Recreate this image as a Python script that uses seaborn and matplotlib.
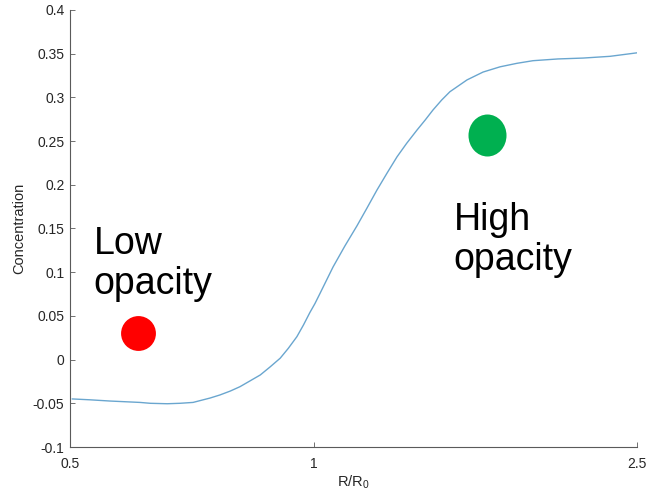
import numpy as np
import pandas as pd
import matplotlib
matplotlib.use("Agg")
import matplotlib.pyplot as plt
from matplotlib.path import Path
from matplotlib.ticker import FixedLocator, NullLocator, FixedFormatter
import seaborn as sns

# Concentration profile along the normalised radius
r_over_r0 = [0.503, 0.529, 0.560, 0.610, 0.628, 0.659, 0.683, 0.709, 0.744,
             0.765, 0.788, 0.810, 0.833, 0.858, 0.882, 0.908, 0.929, 0.952,
             0.970, 0.988, 1.002, 1.017, 1.055, 1.091, 1.129, 1.161, 1.195,
             1.229, 1.265, 1.300, 1.339, 1.370, 1.401, 1.436, 1.470, 1.543,
             1.615, 1.695, 1.778, 1.861, 1.998, 2.145, 2.316, 2.500]
concentration = [-0.045, -0.046, -0.0474, -0.049, -0.050, -0.0505, -0.050,
                 -0.049, -0.044, -0.0405, -0.036, -0.031, -0.0245, -0.0176,
                 -0.0085, 0.0016, 0.0128, 0.0262, 0.0396, 0.054, 0.064,
                 0.076, 0.106, 0.130, 0.153, 0.173, 0.194, 0.213, 0.232,
                 0.2474, 0.2627, 0.274, 0.2856, 0.297, 0.3065, 0.320, 0.329,
                 0.335, 0.339, 0.342, 0.344, 0.345, 0.347, 0.351]

# Opacity markers and their captions
marker_x = [0.606, 1.633]
marker_y = [0.030, 0.257]
marker_colors = ["#ff0000", "#00b050"]
caption_x = [0.535, 1.485]
caption_y = [0.153, 0.180]
captions = ["Low\nopacity", "High\nopacity"]

x_ticks = [0.5, 1, 2.5]
x_tick_labels = ["0.5", "1", "2.5"]
y_ticks = [-0.1, -0.05, 0, 0.05, 0.1, 0.15, 0.2, 0.25, 0.3, 0.35, 0.4]
y_tick_labels = ["-0.1", "-0.05", "0", "0.05", "0.1", "0.15", "0.2", "0.25",
                 "0.3", "0.35", "0.4"]

sns.set_style("ticks")
plt.rcParams["font.family"] = ["Liberation Sans", "DejaVu Sans"]
plt.rcParams["mathtext.fontset"] = "custom"
plt.rcParams["mathtext.rm"] = "Liberation Sans"
plt.rcParams["mathtext.it"] = "Liberation Sans"

fig = plt.figure(figsize=(6.48, 4.9), dpi=100)
ax = fig.add_axes([70 / 648, 43 / 490, 567 / 648, 437 / 490])

df = pd.DataFrame({"r": r_over_r0, "c": concentration})
sns.lineplot(data=df, x="r", y="c", ax=ax, color="#6aa6cf", linewidth=1.0)

ax.set_xscale("log")
ax.set_xlim(0.5, 2.5)
ax.set_ylim(-0.1, 0.4)
ax.xaxis.set_major_locator(FixedLocator(x_ticks))
ax.xaxis.set_major_formatter(FixedFormatter(x_tick_labels))
ax.xaxis.set_minor_locator(NullLocator())
ax.set_yticks(y_ticks)
ax.set_yticklabels(y_tick_labels)

spine_color = "#5a5a5a"
for side in ("top", "right"):
    ax.spines[side].set_visible(False)
for side in ("left", "bottom"):
    ax.spines[side].set_color(spine_color)
    ax.spines[side].set_linewidth(0.8)
ax.tick_params(direction="in", length=3.5, width=0.6, color=spine_color,
               labelsize=10, labelcolor="#262626", pad=4)
ax.tick_params(axis="x", pad=7)

ax.set_xlabel(r"R/R$_0$", fontsize=10.5, color="#262626", labelpad=2)
ax.set_ylabel("Concentration", fontsize=10.5, color="#262626", labelpad=5)

# Circular markers (green one slightly taller than wide)
circle = Path.unit_circle()
tall_circle = Path(circle.vertices * np.array([0.905, 1.0]), circle.codes)
ax.scatter([marker_x[0]], [marker_y[0]], s=630, color=marker_colors[0],
           marker="o", linewidths=0, zorder=3)
ax.scatter([marker_x[1]], [marker_y[1]], s=914, color=marker_colors[1],
           marker=tall_circle, linewidths=0, zorder=3)

for tx, ty, txt in zip(caption_x, caption_y, captions):
    ax.text(tx, ty, txt, fontsize=27, color="black", ha="left", va="top",
            linespacing=1.15)

fig.savefig("out.png", dpi=100)
